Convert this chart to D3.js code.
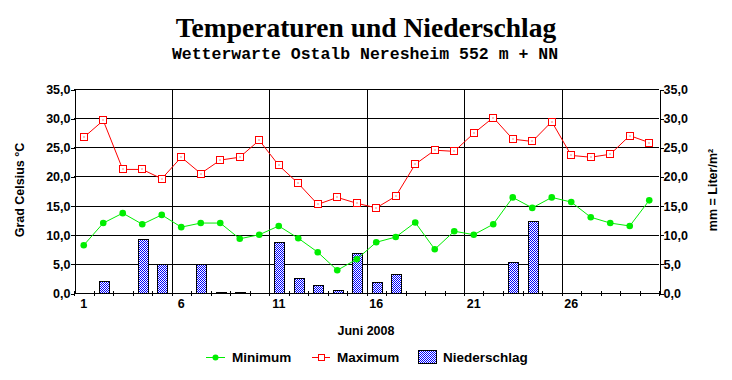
<!DOCTYPE html>
<html><head><meta charset="utf-8">
<script src="https://cdn.jsdelivr.net/npm/d3@7"></script>
<style>body{margin:0;background:#fff}svg{display:block}</style>
</head><body>
<script>
const days = d3.range(1, 31);
const tmin = [8.2,12.0,13.7,11.8,13.4,11.3,12.0,12.0,9.3,10.0,11.5,9.4,7.0,3.9,5.8,8.7,9.6,12.1,7.5,10.6,10.0,11.8,16.4,14.6,16.4,15.6,13.0,12.0,11.5,15.9];
const tmax = [26.7,29.6,21.2,21.2,19.6,23.3,20.5,22.8,23.3,26.2,21.9,18.8,15.2,16.4,15.4,14.6,16.6,22.1,24.5,24.3,27.4,30.1,26.4,26.0,29.4,23.6,23.3,23.8,27.0,25.8];
const precip = [0,2.0,0,9.2,4.9,0,4.9,0.2,0.2,0,8.7,2.5,1.3,0.5,6.8,1.9,3.2,0,0,0,0,0,5.4,12.3,0,0,0,0,0,0];
const yTicks = [0,5,10,15,20,25,30,35];
const xLabels = [1,6,11,16,21,26];
const title = "Temperaturen und Niederschlag";
const subtitle = "Wetterwarte Ostalb Neresheim 552 m + NN";
const xTitle = "Juni 2008";
const yTitleL = "Grad Celsius °C";
const yTitleR = "mm = Liter/m²";
const legendNames = ["Minimum","Maximum","Niederschlag"];

const W = 732, H = 380;
const L = 74, R = 659, T = 89, B = 293;
const sans = "'Liberation Sans', Arial, sans-serif";
const svg = d3.select("body").append("svg").attr("width", W).attr("height", H);
const defs = svg.append("defs");
const pat = defs.append("pattern").attr("id","dots").attr("patternUnits","userSpaceOnUse")
  .attr("width",2).attr("height",2);
pat.append("rect").attr("width",2).attr("height",2).attr("fill","#fff");
pat.append("rect").attr("x",0).attr("y",0).attr("width",1).attr("height",1).attr("fill","#0000ff");
pat.append("rect").attr("x",1).attr("y",1).attr("width",1).attr("height",1).attr("fill","#0000ff");

const x = d3.scaleLinear().domain([0,30]).range([L,R]);
const y = d3.scaleLinear().domain([0,35]).range([B,T]);
const fmt = d => d.toFixed(1).replace(".", ",");

// titles
svg.append("text").attr("x",366).attr("y",37).attr("text-anchor","middle")
  .attr("font-family","'Liberation Serif','Times New Roman',serif").attr("font-weight","bold")
  .attr("font-size",27.5).text(title);
svg.append("text").attr("x",365).attr("y",59).attr("text-anchor","middle")
  .attr("font-family","'Liberation Mono','Courier New',monospace").attr("font-weight","bold")
  .attr("font-size",16.5).text(subtitle);

// grid
const g = svg.append("g").attr("shape-rendering","crispEdges");
g.selectAll("line.h").data(yTicks).join("line")
  .attr("x1",L).attr("x2",R).attr("y1",d=>Math.round(y(d))+0.5).attr("y2",d=>Math.round(y(d))+0.5)
  .attr("stroke","#000");
g.selectAll("line.v").data([5,10,15,20,25]).join("line")
  .attr("x1",d=>Math.round(x(d))+0.5).attr("x2",d=>Math.round(x(d))+0.5).attr("y1",T).attr("y2",B)
  .attr("stroke","#000");

// axes
const axL = svg.append("g").attr("transform",`translate(${L+0.5},0.5)`)
  .call(d3.axisLeft(y).tickValues(yTicks).tickSize(4).tickSizeOuter(0).tickFormat(fmt));
const axR = svg.append("g").attr("transform",`translate(${R+0.5},0.5)`)
  .call(d3.axisRight(y).tickValues(yTicks).tickSize(4).tickSizeOuter(0).tickFormat(fmt));
[axL,axR].forEach(a=>{
  a.selectAll("text").attr("font-family",sans).attr("font-weight","bold").attr("font-size",12.5).attr("fill","#000");
  a.selectAll("line,path").attr("stroke","#000").attr("shape-rendering","crispEdges");
});
axL.selectAll("text").attr("x",-4);
axR.selectAll("text").attr("x",4);
// x axis
svg.append("line").attr("x1",L).attr("x2",R).attr("y1",B+0.5).attr("y2",B+0.5).attr("stroke","#000").attr("shape-rendering","crispEdges");
svg.append("g").selectAll("line").data(d3.range(0,31)).join("line")
  .attr("x1",d=>Math.round(x(d))+0.5).attr("x2",d=>Math.round(x(d))+0.5)
  .attr("y1",B-2).attr("y2",B+3).attr("stroke","#000").attr("shape-rendering","crispEdges");
svg.append("g").selectAll("text").data(xLabels).join("text")
  .attr("x",d=>x(d-0.5)).attr("y",308).attr("text-anchor","middle")
  .attr("font-family",sans).attr("font-weight","bold").attr("font-size",12.5).text(d=>d);

// bars
const bw = 9.5;
svg.append("g").selectAll("rect").data(days.filter((d,i)=>precip[i]>0)).join("rect")
  .attr("x",d=>Math.round(x(d-0.5)-bw/2)+0.5)
  .attr("y",d=>Math.round(y(precip[d-1]))+0.5)
  .attr("width",bw)
  .attr("height",d=>Math.max(0.5, B-Math.round(y(precip[d-1]))))
  .attr("fill","url(#dots)").attr("stroke","#000").attr("stroke-width",1).attr("shape-rendering","crispEdges");

// lines
const line = d3.line().x(d=>x(d[0]-0.5)).y(d=>y(d[1]));
svg.append("path").datum(days.map((d,i)=>[d,tmin[i]])).attr("d",line)
  .attr("fill","none").attr("stroke","#00ee00").attr("stroke-width",1);
svg.append("path").datum(days.map((d,i)=>[d,tmax[i]])).attr("d",line)
  .attr("fill","none").attr("stroke","#ff0000").attr("stroke-width",1);
svg.append("g").selectAll("circle").data(days).join("circle")
  .attr("cx",d=>x(d-0.5)).attr("cy",d=>y(tmin[d-1])).attr("r",3.3).attr("fill","#00ee00");
const sq = svg.append("g").selectAll("g").data(days).join("g")
  .attr("transform",d=>`translate(${Math.round(x(d-0.5))},${Math.round(y(tmax[d-1]))})`);
sq.append("rect").attr("x",-3.5).attr("y",-3.5).attr("width",7).attr("height",7)
  .attr("fill","#fff").attr("stroke","#ff0000").attr("shape-rendering","crispEdges");
sq.append("rect").attr("x",-0.5).attr("y",-0.5).attr("width",1).attr("height",1).attr("fill","#ff0000");

// axis titles
svg.append("text").attr("x",366).attr("y",335).attr("text-anchor","middle")
  .attr("font-family",sans).attr("font-weight","bold").attr("font-size",12.5).text(xTitle);
svg.append("text").attr("transform","translate(24,190) rotate(-90)").attr("text-anchor","middle")
  .attr("font-family",sans).attr("font-weight","bold").attr("font-size",12.5).text(yTitleL);
svg.append("text").attr("transform","translate(717,190) rotate(-90)").attr("text-anchor","middle")
  .attr("font-family",sans).attr("font-weight","bold").attr("font-size",12.5).text(yTitleR);

// legend
const ly = 357;
const lg = svg.append("g").attr("font-family",sans).attr("font-weight","bold").attr("font-size",13.5);
lg.append("line").attr("x1",206).attr("x2",225).attr("y1",ly+0.5).attr("y2",ly+0.5).attr("stroke","#00ee00");
lg.append("circle").attr("cx",215.5).attr("cy",ly+0.5).attr("r",3).attr("fill","#00ee00");
lg.append("text").attr("x",232).attr("y",ly+5).text(legendNames[0]);
lg.append("line").attr("x1",312).attr("x2",330).attr("y1",ly+0.5).attr("y2",ly+0.5).attr("stroke","#ff0000");
lg.append("rect").attr("x",318.5).attr("y",ly-2.5).attr("width",6).attr("height",6).attr("fill","#fff").attr("stroke","#ff0000").attr("shape-rendering","crispEdges");
lg.append("text").attr("x",337).attr("y",ly+5).text(legendNames[1]);
lg.append("rect").attr("x",418.5).attr("y",350.5).attr("width",18).attr("height",13).attr("fill","url(#dots)").attr("stroke","#000").attr("shape-rendering","crispEdges");
lg.append("text").attr("x",443).attr("y",ly+5).text(legendNames[2]);
</script>
</body></html>
